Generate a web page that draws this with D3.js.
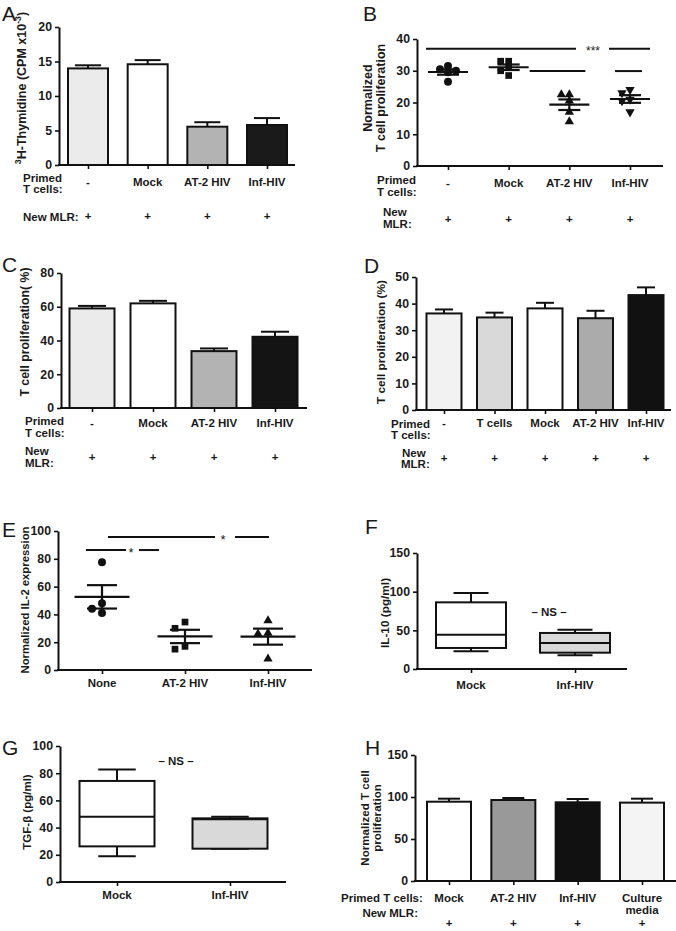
<!DOCTYPE html>
<html><head><meta charset="utf-8">
<script src="https://cdn.jsdelivr.net/npm/d3@7"></script>
<style>
body{margin:0;background:#fff}
svg{display:block}
text{font-family:"Liberation Sans",Arial,Helvetica,sans-serif;fill:#1a1a1a}
</style>
</head><body>
<svg id="c" width="676" height="931"></svg>
<script>
// ---------------- DATA ----------------
// Panel A
const catsA = ["-", "Mock", "AT-2 HIV", "Inf-HIV"];
const valsA = [14.0, 14.6, 5.55, 5.8];
const errA  = [0.45, 0.6, 0.65, 1.0];
const ticksA = [0, 5, 10, 15, 20];
const colorsA = ["#ebebeb", "#ffffff", "#b3b3b3", "#1a1a1a"];
// Panel B
const catsB = ["-", "Mock", "AT-2 HIV", "Inf-HIV"];
const pointsB1 = [31.5, 30.5, 30, 29.5, 26.5];
const pointsB2 = [33, 33, 31, 30, 28.5];
const pointsB3 = [22.5, 22.5, 20.5, 17, 14];
const pointsB4 = [24, 23, 21, 20.5, 17];
const ticksB = [0, 10, 20, 30, 40];
const symbolsB = ["circle", "square", "triangle", "triangleDown"];
// Panel C
const catsC = ["-", "Mock", "AT-2 HIV", "Inf-HIV"];
const valsC = [59, 62, 33.7, 42.2];
const errC  = [1.5, 1.5, 1.6, 3.0];
const ticksC = [0, 20, 40, 60, 80];
const colorsC = ["#ebebeb", "#ffffff", "#b3b3b3", "#141414"];
// Panel D
const catsD = ["-", "T cells", "Mock", "AT-2 HIV", "Inf-HIV"];
const valsD = [36.3, 34.8, 38.2, 34.5, 43.2];
const errD  = [1.5, 1.8, 2.1, 2.8, 2.9];
const ticksD = [0, 10, 20, 30, 40, 50];
const colorsD = ["#f2f2f2", "#d9d9d9", "#ffffff", "#ababab", "#111111"];
// Panel E
const catsE = ["None", "AT-2 HIV", "Inf-HIV"];
const pointsE1 = [77.5, 48, 44, 41];
const pointsE2 = [34.5, 30, 17, 15];
const pointsE3 = [35.5, 26.5, 26, 8];
const ticksE = [0, 20, 40, 60, 80, 100];
const symbolsE = ["circle", "square", "triangle"];
// Panel F (box: min, q1, median, q3, max)
const catsF = ["Mock", "Inf-HIV"];
const boxF1 = [22.8, 27.2, 44.4, 86.2, 98.3];
const boxF2 = [17.7, 21.1, 33.6, 46.6, 50.9];
const ticksF = [0, 50, 100, 150];
const colorsF = ["#ffffff", "#d9d9d9"];
// Panel G
const catsG = ["Mock", "Inf-HIV"];
const boxG1 = [18.9, 26.2, 48, 74.3, 82.8];
const boxG2 = [24.5, 24.5, 46.2, 46.8, 48];
const ticksG = [0, 20, 40, 60, 80, 100];
const colorsG = ["#ffffff", "#d9d9d9"];
// Panel H
const catsH = ["Mock", "AT-2 HIV", "Inf-HIV", "Culture\nmedia"];
const valsH = [94.4, 96.4, 93.7, 93.3];
const errH  = [3.6, 2.4, 3.9, 4.7];
const ticksH = [0, 50, 100, 150];
const colorsH = ["#ffffff", "#999999", "#111111", "#f4f4f4"];

// ---------------- HELPERS ----------------
const svg = d3.select("#c");
const FONT = '"Liberation Sans",Arial,Helvetica,sans-serif';
const FS = 11.5;     // category / row labels
const TFS = 12.3;    // tick labels

function makePanel(o) {
  const g = svg.append("g");
  const y = d3.scaleLinear().domain(o.domain).range([o.yBot, o.yTop]);
  const x = d3.scalePoint().domain(o.cats).range(o.centers);
  return {g, x, y, o};
}

function drawAxes(p, ticks) {
  const {g, x, y, o} = p;
  const ya = g.append("g").attr("transform", `translate(${o.x0},0)`)
    .call(d3.axisLeft(y).tickValues(ticks).tickSize(4).tickSizeOuter(0).tickPadding(3));
  ya.attr("font-family", FONT).attr("font-size", TFS);
  ya.select(".domain").attr("stroke-width", 2).attr("stroke", "#111");
  ya.selectAll(".tick line").attr("stroke-width", 1.6).attr("stroke", "#111");
  ya.selectAll(".tick text").attr("font-weight", "bold").attr("fill", "#1a1a1a");
  const xa = g.append("g").attr("transform", `translate(0,${o.yBot})`)
    .call(d3.axisBottom(x).tickSize(4).tickSizeOuter(0).tickFormat(""));
  xa.select(".domain").remove();
  xa.selectAll(".tick line").attr("stroke-width", 1.6).attr("stroke", "#111");
  g.append("line").attr("x1", o.x0 - 1).attr("x2", o.x1)
    .attr("y1", o.yBot).attr("y2", o.yBot)
    .attr("stroke", "#111").attr("stroke-width", 2);
}

function txt(g, x, y, s, opts = {}) {
  return g.append("text").attr("x", x).attr("y", y)
    .attr("font-size", opts.size || FS)
    .attr("font-weight", opts.weight || "bold")
    .attr("text-anchor", opts.anchor || "start")
    .text(s);
}

function catLabels(p, yBase) {
  p.o.cats.forEach(c => {
    const lines = c.split("\n");
    lines.forEach((l, i) => txt(p.g, p.x(c), yBase + i * 12, l, {anchor: "middle"}));
  });
}

function plusRow(p, yBase) {
  p.o.cats.forEach(c => txt(p.g, p.x(c), yBase, "+", {anchor: "middle"}));
}

function yTitle(g, cx, cy, lines, size, gap) {
  lines.forEach((l, i) => {
    const t = g.append("text")
      .attr("transform", `translate(${cx + i * (gap || 12)},${cy}) rotate(-90)`)
      .attr("text-anchor", "middle").attr("font-size", size)
      .attr("font-weight", "bold");
    if (Array.isArray(l)) {
      l.forEach(seg => {
        const ts = t.append("tspan").text(seg.t);
        if (seg.sup) ts.attr("baseline-shift", "super").attr("font-size", size * 0.7);
      });
    } else t.text(l);
  });
}

function letter(x, y, s) {
  svg.append("text").attr("x", x).attr("y", y).attr("font-size", 21)
    .attr("font-weight", "normal").text(s);
}

function bars(p, vals, errs, colors, bw, capW) {
  const {g, x, y, o} = p;
  o.cats.forEach((c, i) => {
    const cx = x(c), top = y(vals[i]), et = y(vals[i] + errs[i]);
    g.append("line").attr("x1", cx).attr("x2", cx).attr("y1", top).attr("y2", et)
      .attr("stroke", "#111").attr("stroke-width", 2);
    g.append("line").attr("x1", cx - capW / 2).attr("x2", cx + capW / 2).attr("y1", et).attr("y2", et)
      .attr("stroke", "#111").attr("stroke-width", 2);
    g.append("rect").attr("x", cx - bw / 2).attr("y", top)
      .attr("width", bw).attr("height", y(0) - top)
      .attr("fill", colors[i]).attr("stroke", "#111").attr("stroke-width", 2);
  });
}

function symbolFor(name, size) {
  if (name === "circle") return d3.symbol(d3.symbolCircle, size)();
  if (name === "square") return d3.symbol(d3.symbolSquare, size * 0.9)();
  return d3.symbol(d3.symbolTriangle, size * 0.75)();
}

function scatter(p, groups, symbols, opt) {
  const {g, x, y, o} = p;
  groups.forEach((pts, gi) => {
    const cx = x(o.cats[gi]);
    const mean = d3.mean(pts);
    const sem = d3.deviation(pts) / Math.sqrt(pts.length);
    const placed = [];
    const sorted = pts.slice().sort((a, b) => b - a);
    const offs = [0, -1, 1, -2, 2, -3, 3];
    sorted.forEach(v => {
      const py = y(v);
      let px = cx;
      for (const k of offs) {
        const tx = cx + k * opt.dodge;
        if (placed.every(q => Math.hypot(q[0] - tx, q[1] - py) >= opt.minDist)) { px = tx; break; }
      }
      placed.push([px, py]);
    });
    placed.forEach(([px, py]) => {
      const rot = symbols[gi] === "triangleDown" ? " rotate(180)" : "";
      g.append("path").attr("d", symbolFor(symbols[gi], opt.size))
        .attr("transform", `translate(${px},${py})${rot}`).attr("fill", "#111");
    });
    const line = (x1, x2, yy) => g.append("line").attr("x1", x1).attr("x2", x2)
      .attr("y1", yy).attr("y2", yy).attr("stroke", "#111").attr("stroke-width", 2.2);
    line(cx - opt.meanW / 2, cx + opt.meanW / 2, y(mean));
    line(cx - opt.semW / 2, cx + opt.semW / 2, y(mean + sem));
    line(cx - opt.semW / 2, cx + opt.semW / 2, y(mean - sem));
    g.append("line").attr("x1", cx).attr("x2", cx).attr("y1", y(mean + sem)).attr("y2", y(mean - sem))
      .attr("stroke", "#111").attr("stroke-width", 2.2);
  });
}

function boxes(p, data, colors, bw) {
  const {g, x, y, o} = p;
  data.forEach((b, i) => {
    const cx = x(o.cats[i]);
    const [mn, q1, md, q3, mx] = b;
    const L = (x1, x2, y1, y2) => g.append("line").attr("x1", x1).attr("x2", x2)
      .attr("y1", y1).attr("y2", y2).attr("stroke", "#111").attr("stroke-width", 2);
    L(cx, cx, y(q3), y(mx));
    L(cx - bw / 4, cx + bw / 4, y(mx), y(mx));
    L(cx, cx, y(q1), y(mn));
    L(cx - bw / 4, cx + bw / 4, y(mn), y(mn));
    g.append("rect").attr("x", cx - bw / 2).attr("y", y(q3)).attr("width", bw)
      .attr("height", y(q1) - y(q3)).attr("fill", colors[i]).attr("stroke", "#111").attr("stroke-width", 2);
    L(cx - bw / 2, cx + bw / 2, y(md), y(md));
  });
}

function hline(g, x1, x2, yy) {
  g.append("line").attr("x1", x1).attr("x2", x2).attr("y1", yy).attr("y2", yy)
    .attr("stroke", "#111").attr("stroke-width", 2);
}

// ---------------- PANEL A ----------------
{
  const p = makePanel({x0: 59, x1: 295, yTop: 27, yBot: 165, domain: [0, 20], cats: catsA, centers: [88, 267]});
  bars(p, valsA, errA, colorsA, 40, 26);
  drawAxes(p, ticksA);
  catLabels(p, 186);
  txt(p.g, 23, 182, "Primed"); txt(p.g, 23, 193, "T cells:");
  txt(p.g, 23, 221, "New MLR:");
  plusRow(p, 220);
  yTitle(p.g, 26, 88, [[{t: "3", sup: true}, {t: "H-Thymidine (CPM x10"}, {t: "-3", sup: true}, {t: ")"}]], 12.5);
  letter(2, 21, "A");
}
// ---------------- PANEL B ----------------
{
  const p = makePanel({x0: 417, x1: 663, yTop: 39, yBot: 166, domain: [0, 40], cats: catsB, centers: [448, 630]});
  drawAxes(p, ticksB);
  scatter(p, [pointsB1, pointsB2, pointsB3, pointsB4], symbolsB, {size: 50, dodge: 8, minDist: 6, meanW: 40, semW: 22});
  const {g, x, y} = p;
  const s1 = y(36.9), s2 = y(29.9);
  hline(g, x(catsB[0]) - 22, x(catsB[3]) - 54, s1);
  txt(g, x(catsB[3]) - 37, s1 + 6, "***", {anchor: "middle", weight: "normal", size: 12});
  hline(g, x(catsB[3]) - 21, x(catsB[3]) + 20, s1);
  hline(g, x(catsB[1]) + 21, x(catsB[2]) + 16, s2);
  hline(g, x(catsB[3]) - 15, x(catsB[3]) + 12, s2);
  catLabels(p, 187);
  txt(g, 377, 184, "Primed"); txt(g, 377, 196, "T cells:");
  txt(g, 383, 216, "New"); txt(g, 383, 228, "MLR:");
  plusRow(p, 223);
  yTitle(g, 372, 98, ["Normalized", "T cell proliferation"], 12.5, 12.5);
  letter(363, 21, "B");
}
// ---------------- PANEL C ----------------
{
  const p = makePanel({x0: 61, x1: 307, yTop: 273, yBot: 408, domain: [0, 80], cats: catsC, centers: [92, 275]});
  bars(p, valsC, errC, colorsC, 45, 28);
  drawAxes(p, ticksC);
  catLabels(p, 427);
  txt(p.g, 25, 425, "Primed"); txt(p.g, 25, 437, "T cells:");
  txt(p.g, 25, 455, "New"); txt(p.g, 25, 467, "MLR:");
  plusRow(p, 461);
  yTitle(p.g, 29, 332, ["T cell proliferation( %)"], 12.3);
  letter(2, 272, "C");
}
// ---------------- PANEL D ----------------
{
  const p = makePanel({x0: 416, x1: 671, yTop: 277, yBot: 410, domain: [0, 50], cats: catsD, centers: [444, 646]});
  bars(p, valsD, errD, colorsD, 35, 18);
  drawAxes(p, ticksD);
  catLabels(p, 427);
  txt(p.g, 391, 428, "Primed"); txt(p.g, 391, 439, "T cells:");
  txt(p.g, 402, 457, "New"); txt(p.g, 401, 468, "MLR:");
  plusRow(p, 462);
  yTitle(p.g, 385, 342, ["T cell proliferation (%)"], 11.8);
  letter(364, 273, "D");
}
// ---------------- PANEL E ----------------
{
  const p = makePanel({x0: 58, x1: 312, yTop: 531, yBot: 670, domain: [0, 100], cats: catsE, centers: [102, 268]});
  drawAxes(p, ticksE);
  scatter(p, [pointsE1, pointsE2, pointsE3], symbolsE, {size: 50, dodge: 10, minDist: 7, meanW: 55, semW: 30});
  const {g, x, y} = p;
  const s1 = y(95.7), s2 = y(86.3);
  hline(g, x(catsE[0]) + 6, x(catsE[1]) + 30, s1);
  txt(g, x(catsE[1]) + 38, s1 + 7, "*", {anchor: "middle", weight: "normal", size: 13});
  hline(g, x(catsE[1]) + 50, x(catsE[2]) + 1, s1);
  hline(g, x(catsE[0]) - 16, x(catsE[0]) + 24, s2);
  txt(g, x(catsE[0]) + 29, s2 + 7, "*", {anchor: "middle", weight: "normal", size: 13});
  hline(g, x(catsE[0]) + 37, x(catsE[0]) + 57, s2);
  catLabels(p, 687);
  yTitle(g, 29, 600, ["Normalized IL-2 expression"], 11.3);
  letter(2, 537, "E");
}
// ---------------- PANEL F ----------------
{
  const p = makePanel({x0: 417, x1: 627, yTop: 553, yBot: 669, domain: [0, 150], cats: catsF, centers: [471, 575]});
  boxes(p, [boxF1, boxF2], colorsF, 70);
  drawAxes(p, ticksF);
  txt(p.g, 549, 616, "– NS –", {anchor: "middle"});
  catLabels(p, 689);
  yTitle(p.g, 389, 613, ["IL-10 (pg/ml)"], 11.8);
  letter(365, 534, "F");
}
// ---------------- PANEL G ----------------
{
  const p = makePanel({x0: 60, x1: 286, yTop: 746, yBot: 882, domain: [0, 100], cats: catsG, centers: [117, 230]});
  boxes(p, [boxG1, boxG2], colorsG, 75);
  drawAxes(p, ticksG);
  txt(p.g, 176, 765, "– NS –", {anchor: "middle"});
  catLabels(p, 899);
  yTitle(p.g, 31, 812, ["TGF-β (pg/ml)"], 11.5);
  letter(2, 755, "G");
}
// ---------------- PANEL H ----------------
{
  const p = makePanel({x0: 415, x1: 676, yTop: 755, yBot: 881, domain: [0, 150], cats: catsH, centers: [449, 642]});
  bars(p, valsH, errH, colorsH, 44, 22);
  drawAxes(p, ticksH);
  catLabels(p, 902);
  txt(p.g, 341, 902, "Primed T cells:");
  txt(p.g, 418, 917, "New MLR:", {anchor: "end"});
  plusRow(p, 927);
  yTitle(p.g, 369, 818, ["Normalized T cell", "proliferation"], 11.6);
  letter(365, 755, "H");
}
</script>
</body></html>
